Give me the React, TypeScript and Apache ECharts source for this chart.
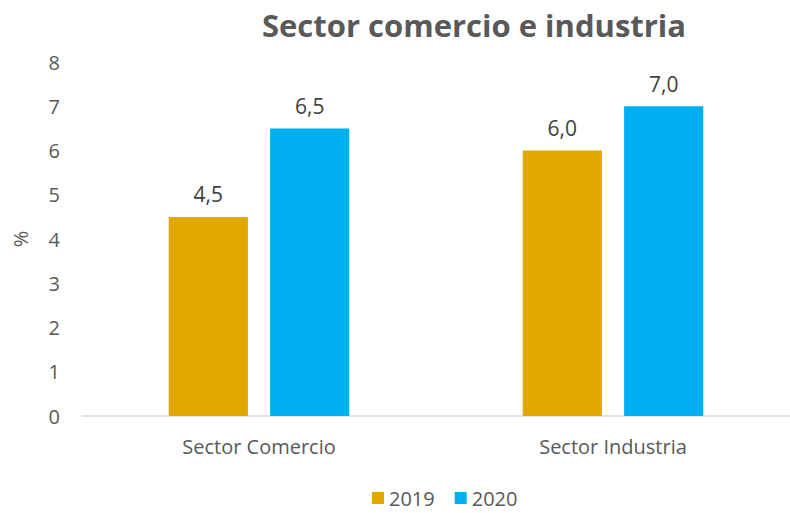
import React, { useEffect, useRef } from "react";
import * as echarts from "echarts";

const categories = ["Sector Comercio", "Sector Industria"];
const values2019 = [4.5, 6.0];
const values2020 = [6.5, 7.0];
const seriesNames = ["2019", "2020"];
const yTicks = { min: 0, max: 8, interval: 1 };

const FONT = "'Open Sans', Lato, sans-serif";

export default function App() {
  const ref = useRef<HTMLDivElement>(null);
  useEffect(() => {
    if (!ref.current) return;
    const chart = echarts.init(ref.current, undefined, { renderer: "svg" });
    const label = {
      show: true,
      position: "top",
      distance: 12,
      fontSize: 21,
      fontFamily: FONT,
      color: "#404040",
      formatter: (p: any) => Number(p.value).toFixed(1).replace(".", ","),
    };
    chart.setOption({
      animation: false,
      backgroundColor: "#ffffff",
      title: {
        text: "Sector comercio e industria",
        left: 469,
        textAlign: "center",
        top: 4,
        textStyle: { fontSize: 31, fontWeight: "bold", color: "#595959", fontFamily: FONT },
      },
      legend: {
        data: seriesNames,
        left: 372,
        top: 488,
        padding: 0,
        icon: "rect",
        itemWidth: 12,
        itemHeight: 12,
        itemGap: 20,
        textStyle: { fontSize: 20, lineHeight: 20, color: "#595959", fontFamily: FONT },
      },
      grid: { left: 82, right: 0, top: 62, bottom: 97 },
      xAxis: {
        type: "category",
        data: categories,
        axisLine: { lineStyle: { color: "#D9D9D9", width: 1.5 } },
        axisTick: { show: false },
        axisLabel: { fontSize: 20, color: "#595959", fontFamily: FONT, margin: 20 },
      },
      yAxis: {
        type: "value",
        min: yTicks.min,
        max: yTicks.max,
        interval: yTicks.interval,
        name: "%",
        nameLocation: "middle",
        nameGap: 52,
        nameRotate: 90,
        nameTextStyle: { fontSize: 20, color: "#595959", fontFamily: FONT },
        splitLine: { show: false },
        axisLine: { show: false },
        axisTick: { show: false },
        axisLabel: { fontSize: 20, color: "#595959", fontFamily: FONT, margin: 22 },
      },
      series: [
        {
          name: seriesNames[0],
          type: "bar",
          data: values2019,
          itemStyle: { color: "#E2A800" },
          barGap: "28%",
          barCategoryGap: "49%",
          label,
        },
        {
          name: seriesNames[1],
          type: "bar",
          data: values2020,
          itemStyle: { color: "#00B0F0" },
          label,
        },
      ],
    });
    return () => chart.dispose();
  }, []);
  return (
    <div
      ref={ref}
      style={{ position: "fixed", left: 0, top: 0, width: 790, height: 513 }}
    />
  );
}
